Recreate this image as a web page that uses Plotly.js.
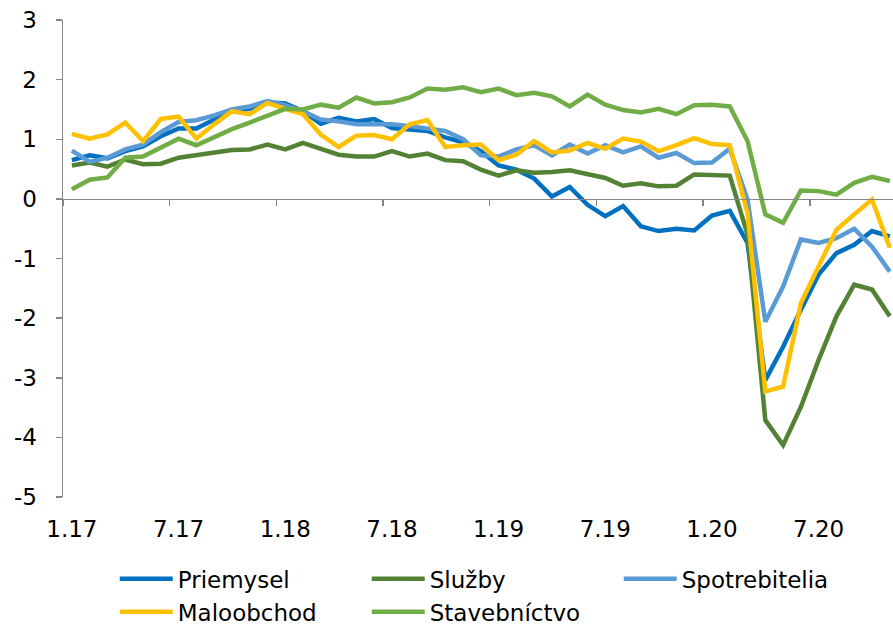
<!DOCTYPE html>
<html>
<head>
<meta charset="utf-8">
<script src="https://cdn.plot.ly/plotly-3.0.1.min.js"></script>
<style>html,body{margin:0;padding:0;background:#fff}#chart{width:893px;height:627px}</style>
</head>
<body>
<div id="chart"></div>
<script>
// Monthly categories Jan 2017 .. Nov 2020 (index 0..46)
const months = [];
for (let y = 17; y <= 20; y++) for (let m = 1; m <= 12; m++) months.push(m + '.' + y);
const categories = months.slice(0, 47);
const tickLabels = ['1.17','7.17','1.18','7.18','1.19','7.19','1.20','7.20'];
const yTickVals = [-5,-4,-3,-2,-1,0,1,2,3];
const yTickText = ['-5','-4','-3','-2','-1','0','1','2','3'];

const priemysel = [0.65,0.73,0.68,0.80,0.88,1.05,1.18,1.18,1.33,1.47,1.51,1.62,1.60,1.47,1.26,1.36,1.30,1.34,1.19,1.16,1.14,1.03,0.95,0.80,0.56,0.49,0.34,0.04,0.20,-0.10,-0.29,-0.12,-0.46,-0.54,-0.50,-0.53,-0.28,-0.20,-0.74,-3.04,-2.48,-1.86,-1.27,-0.91,-0.77,-0.54,-0.63];
const sluzby = [0.56,0.61,0.54,0.66,0.58,0.59,0.69,0.73,0.77,0.82,0.83,0.91,0.83,0.94,0.84,0.74,0.71,0.71,0.80,0.71,0.76,0.65,0.63,0.49,0.39,0.48,0.44,0.45,0.48,0.41,0.35,0.22,0.26,0.21,0.22,0.41,0.40,0.39,-0.60,-3.71,-4.13,-3.49,-2.70,-1.97,-1.44,-1.52,-1.97];
const spotrebitelia = [0.81,0.62,0.69,0.83,0.91,1.12,1.29,1.32,1.40,1.50,1.55,1.64,1.57,1.47,1.33,1.30,1.25,1.25,1.25,1.22,1.18,1.14,1.00,0.73,0.71,0.83,0.90,0.73,0.91,0.76,0.90,0.78,0.88,0.69,0.77,0.60,0.61,0.84,-0.01,-2.06,-1.47,-0.68,-0.74,-0.66,-0.50,-0.80,-1.22];
const maloobchod = [1.09,1.01,1.08,1.28,0.97,1.34,1.38,1.01,1.25,1.47,1.42,1.61,1.51,1.42,1.08,0.87,1.06,1.07,1.00,1.25,1.32,0.87,0.90,0.91,0.65,0.74,0.97,0.78,0.81,0.94,0.84,1.01,0.96,0.80,0.90,1.02,0.92,0.90,-0.24,-3.23,-3.15,-1.75,-1.13,-0.52,-0.26,-0.01,-0.82];
const stavebnictvo = [0.16,0.32,0.36,0.69,0.71,0.86,1.01,0.90,1.04,1.17,1.28,1.39,1.51,1.50,1.58,1.53,1.70,1.60,1.62,1.70,1.85,1.83,1.87,1.79,1.85,1.74,1.78,1.72,1.55,1.75,1.58,1.49,1.45,1.51,1.42,1.57,1.58,1.55,0.97,-0.26,-0.40,0.14,0.13,0.07,0.27,0.37,0.30];

const seriesNames = ['Priemysel','Služby','Spotrebitelia','Maloobchod','Stavebníctvo'];
const seriesData = [priemysel, sluzby, spotrebitelia, maloobchod, stavebnictvo];
const colors = ['#0070C0','#548235','#5B9BD5','#FFC000','#70AD47'];

const xIdx = categories.map((c, i) => i);
const traces = seriesNames.map((n, k) => ({
  type: 'scatter', mode: 'lines', name: n,
  x: xIdx, y: seriesData[k], text: categories,
  line: {color: colors[k], width: 4.5},
  hoverinfo: 'text+y+name'
}));
// placeholder so the label axis (x2) is drawn; it has no visible marks
traces.push({type: 'scatter', mode: 'lines', x: [0], y: [null], xaxis: 'x2', yaxis: 'y', showlegend: false, hoverinfo: 'skip'});

const FONT = 'DejaVu Sans, Verdana, sans-serif';
const axisColor = '#868686';
const xMax = -0.5 + 830 / 17.78;
const boundaries = [];
for (let i = -0.5; i <= 46.5; i += 6) boundaries.push(i);

const layout = {
  width: 893, height: 627,
  margin: {l: 63, r: 0, t: 20, b: 130},
  paper_bgcolor: '#fff', plot_bgcolor: '#fff',
  font: {family: FONT, size: 23, color: '#000'},
  showlegend: true,
  xaxis: {
    range: [-0.5, xMax], anchor: 'free', position: 0.625,
    showgrid: false, zeroline: false, showline: true, linecolor: axisColor, linewidth: 1.5,
    tickmode: 'array', tickvals: boundaries, ticks: 'outside', ticklen: 6, tickcolor: axisColor, tickwidth: 1.5,
    showticklabels: false, fixedrange: true
  },
  xaxis2: {
    overlaying: 'x', anchor: 'y', side: 'bottom', range: [-0.5, xMax],
    showgrid: false, zeroline: false, showline: false, ticks: '',
    tickmode: 'array', tickvals: tickLabels.map((t, i) => i * 6), ticktext: tickLabels,
    ticklabelstandoff: 16, tickfont: {family: FONT, size: 23, color: '#000'}
  },
  yaxis: {
    range: [-5, 3], tickmode: 'array', tickvals: yTickVals, ticktext: yTickText,
    showgrid: false, zeroline: false, showline: true, linecolor: axisColor, linewidth: 1.5,
    ticks: 'outside', ticklen: 6, tickcolor: axisColor, tickwidth: 1.5,
    ticklabelstandoff: 14, tickfont: {family: FONT, size: 23, color: '#000'}
  },
  legend: {
    orientation: 'h', xref: 'container', yref: 'container', x: 0.1285, y: 0.111,
    xanchor: 'left', yanchor: 'top',
    entrywidth: 184, entrywidthmode: 'pixels', itemwidth: 53,
    font: {family: FONT, size: 23, color: '#000'}, bgcolor: 'rgba(0,0,0,0)'
  }
};

Plotly.newPlot('chart', traces, layout, {displayModeBar: false, staticPlot: true});
</script>
</body>
</html>
